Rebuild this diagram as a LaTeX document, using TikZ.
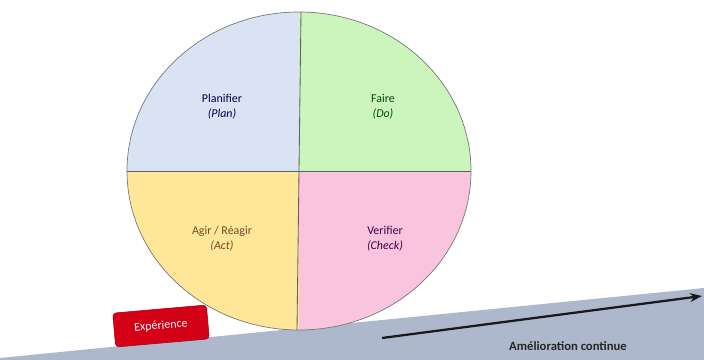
\documentclass[tikz,border=0pt]{standalone}
\usepackage{fontspec}
\setmainfont{Carlito}
\usepackage{tikz}
\usetikzlibrary{positioning,arrows.meta}
\definecolor{pdcablue}{RGB}{218,227,243}
\definecolor{pdcagreen}{RGB}{204,245,190}
\definecolor{pdcayellow}{RGB}{255,230,153}
\definecolor{pdcapink}{RGB}{248,196,222}
\definecolor{pdcaslope}{RGB}{174,184,204}
\definecolor{pdcared}{RGB}{212,0,22}
\definecolor{pdcagray}{RGB}{120,120,120}

\begin{document}
\begin{tikzpicture}[
    x=0.025cm, y=-0.025cm,
    quadlab/.style={align=center, font=\fontsize{8.5}{10.5}\selectfont, inner sep=1pt},
    badge/.style={rectangle, rounded corners=2.5pt, draw=pdcared!80!black, fill=pdcared, text=white, minimum width=2.35cm, minimum height=0.85cm, font=\fontsize{8.5}{10}\selectfont},
    trend/.style={-{Stealth[length=3mm, width=2.2mm]}, line width=1.6pt, draw=black!90},
    caption/.style={font=\fontsize{9}{10}\selectfont\bfseries, text=black!85}
  ]
    \useasboundingbox (0,0) rectangle (704,360);
    \fill[white] (0,0) rectangle (704,360);

    \fill[pdcaslope] (0,358) -- (704,288) -- (704,360) -- (0,360) -- cycle;

    \begin{scope}
      \clip (299,171) ellipse [x radius=172, y radius=159];
      \fill[pdcablue] (120,0) rectangle (299,171);
      \fill[pdcagreen] (299,0) rectangle (480,171);
      \fill[pdcayellow] (120,171) rectangle (299,340);
      \fill[pdcapink] (299,171) rectangle (480,340);
    \end{scope}
    \draw[pdcagray, line width=0.5pt] (299,171) ellipse [x radius=172, y radius=159];
    \draw[pdcagray!80!black, line width=0.6pt] (301,12) -- (297,330);
    \draw[pdcagray!80!black, line width=0.6pt] (127,171) -- (471,171);

    \node[quadlab, text=blue!30!black] (plan) at (222,107) {Planifier\\\textit{(Plan)}};
    \node[quadlab, text=green!30!black] (do) at (383,107) {Faire\\\textit{(Do)}};
    \node[quadlab, text=brown!60!black] (act) at (222,239) {Agir / Réagir\\\textit{(Act)}};
    \node[quadlab, text=violet!50!black] (check) at (385,239) {Verifier\\\textit{(Check)}};

    \node[badge, rotate=5] (exp) at (161,326) {Expérience};

    \coordinate (trendstart) at (382,338);
    \coordinate (trendend) at (702,296);
    \draw[trend] (trendstart) -- (trendend);
    \node[caption] (amelio) at (568,346) {Amélioration continue};
  \end{tikzpicture}
\end{document}
